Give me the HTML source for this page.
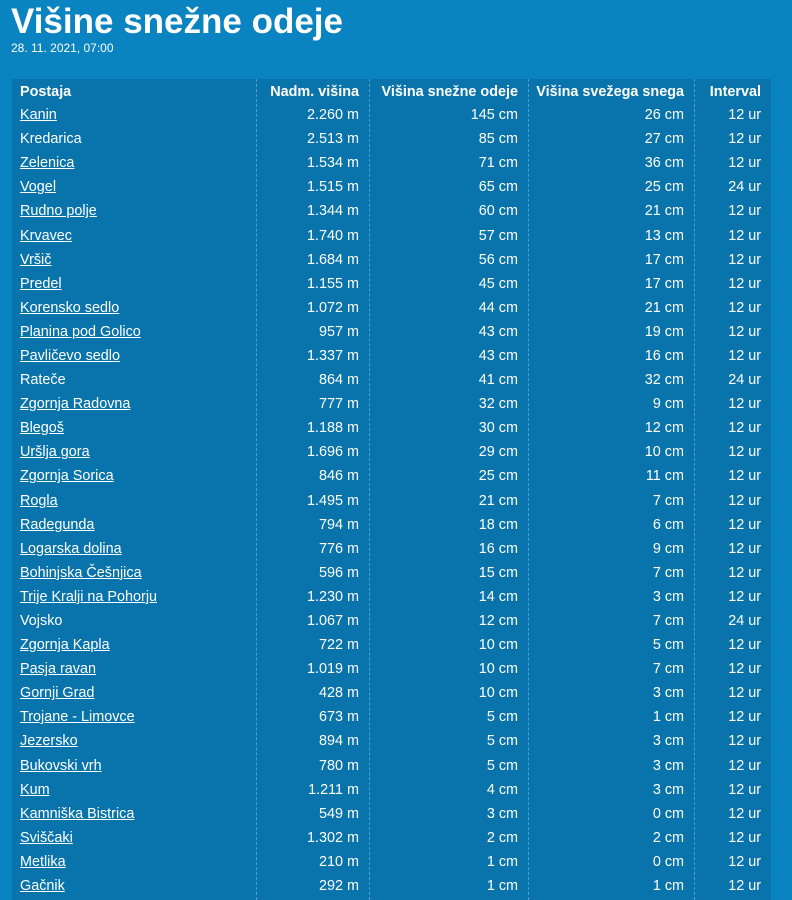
<!DOCTYPE html>
<html><head><meta charset="utf-8"><style>
body{margin:0;width:792px;height:900px;background:#0a83c1;font-family:"Liberation Sans",sans-serif;color:#fff;overflow:hidden;position:relative}
h1{position:absolute;left:11px;top:2px;margin:0;font-size:35px;font-weight:bold;letter-spacing:0}
.d{position:absolute;left:11px;top:41px;font-size:12px}
.t{position:absolute;left:12px;top:79px;width:759px;height:821px;background:#0974ac}
.v{position:absolute;top:0;bottom:0;border-left:1px dashed rgba(255,255,255,0.3)}
table{position:absolute;left:0;top:1px;border-collapse:collapse;font-size:14.4px;table-layout:fixed;width:759px}
td{height:24.1px;padding:0 10px 0 0;white-space:nowrap;text-align:right;overflow:visible}
td.n{text-align:left;padding-left:8px}
tr.h td{font-weight:bold;height:23px}
u{text-decoration:underline}
</style></head><body>
<h1>Višine snežne odeje</h1>
<div class="d">28. 11. 2021, 07:00</div>
<div class="t">
<div class="v" style="left:244px"></div><div class="v" style="left:357px"></div><div class="v" style="left:516px"></div><div class="v" style="left:682px"></div>
<table>
<colgroup><col style="width:244px"><col style="width:113px"><col style="width:159px"><col style="width:166px"><col style="width:77px"></colgroup>
<tr class="h"><td class="n">Postaja</td><td>Nadm. višina</td><td>Višina snežne odeje</td><td>Višina svežega snega</td><td>Interval</td></tr>
</table>
</div>
<script>
var D=`Kanin|2.260|145|26|12|1
Kredarica|2.513|85|27|12|0
Zelenica|1.534|71|36|12|1
Vogel|1.515|65|25|24|1
Rudno polje|1.344|60|21|12|1
Krvavec|1.740|57|13|12|1
Vršič|1.684|56|17|12|1
Predel|1.155|45|17|12|1
Korensko sedlo|1.072|44|21|12|1
Planina pod Golico|957|43|19|12|1
Pavličevo sedlo|1.337|43|16|12|1
Rateče|864|41|32|24|0
Zgornja Radovna|777|32|9|12|1
Blegoš|1.188|30|12|12|1
Uršlja gora|1.696|29|10|12|1
Zgornja Sorica|846|25|11|12|1
Rogla|1.495|21|7|12|1
Radegunda|794|18|6|12|1
Logarska dolina|776|16|9|12|1
Bohinjska Češnjica|596|15|7|12|1
Trije Kralji na Pohorju|1.230|14|3|12|1
Vojsko|1.067|12|7|24|0
Zgornja Kapla|722|10|5|12|1
Pasja ravan|1.019|10|7|12|1
Gornji Grad|428|10|3|12|1
Trojane - Limovce|673|5|1|12|1
Jezersko|894|5|3|12|1
Bukovski vrh|780|5|3|12|1
Kum|1.211|4|3|12|1
Kamniška Bistrica|549|3|0|12|1
Sviščaki|1.302|2|2|12|1
Metlika|210|1|0|12|1
Gačnik|292|1|1|12|1`;
var tb=document.querySelector('table'),h='';
D.split('\n').forEach(function(l){var a=l.split('|');
h+='<tr><td class="n">'+(a[5]=='1'?'<u>'+a[0]+'</u>':a[0])+'</td><td>'+a[1]+' m</td><td>'+a[2]+' cm</td><td>'+a[3]+' cm</td><td>'+a[4]+' ur</td></tr>';});
tb.insertAdjacentHTML('beforeend',h);
</script>
</body></html>
